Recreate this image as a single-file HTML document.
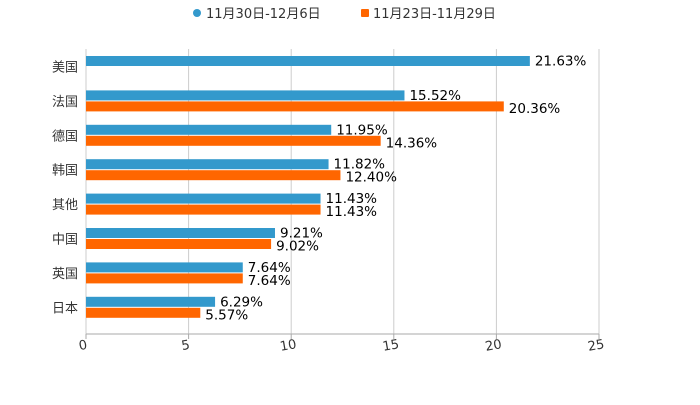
<!DOCTYPE html>
<html><head><meta charset="utf-8"><style>
body{margin:0;background:#fff;width:700px;height:400px;overflow:hidden}
text{font-family:"DejaVu Sans","Noto Sans CJK SC",sans-serif}
</style></head><body>
<svg id="c" width="700" height="400" xmlns="http://www.w3.org/2000/svg">
<g>
<g><circle cx="197" cy="13" r="4" fill="#3399cc"/><text x="206" y="18" font-size="13" fill="#333">11月30日-12月6日</text></g>
<g><rect x="361" y="9" width="8" height="8" rx="1" fill="#ff6600"/><text x="373" y="18" font-size="13" fill="#333">11月23日-11月29日</text></g>
</g>
<g id="grid"></g><g id="bars"></g><g id="axes"></g>
</svg>
<script>
const categories=["美国","法国","德国","韩国","其他","中国","英国","日本"];
const seriesA=[21.63,15.52,11.95,11.82,11.43,9.21,7.64,6.29];
const seriesB=[null,20.36,14.36,12.40,11.43,9.02,7.64,5.57];
const ticks=[0,5,10,15,20,25];
const NS="http://www.w3.org/2000/svg";
const x0=86,x1=599,xMax=25;
const X=v=>x0+v/xMax*(x1-x0);
const Y=i=>66.5+i*34.4;
function mk(t,a,p){const e=document.createElementNS(NS,t);for(const k in a)e.setAttribute(k,a[k]);p.appendChild(e);return e;}
const g=document.getElementById('grid'),b=document.getElementById('bars'),ax=document.getElementById('axes');
ticks.forEach(t=>{
 const l=mk('line',{x1:X(t),x2:X(t),y1:49,y2:334,stroke:'#ccc','stroke-width':1},g);
 
 
 const tk=mk('line',{x1:X(t),x2:X(t),y1:334,y2:339,stroke:'#aaa'},ax);
 
 
 const tx=mk('text',{x:X(t)-3,y:349,'font-size':13,fill:'#333','text-anchor':'middle',transform:`rotate(-10 ${X(t)} 345)`},ax);
 tx.textContent=t;
 
 
});
const axl=mk('line',{x1:x0,x2:x1,y1:334,y2:334,stroke:'#aaa'},ax);


categories.forEach((c,i)=>{
 const yc=Y(i);
 const lb=mk('text',{x:78,y:yc+5,'font-size':13,fill:'#333','text-anchor':'end'},ax);
 lb.textContent=c;
 
 
 [[seriesA[i],'#3399cc',yc-10.5,-1],[seriesB[i],'#ff6600',yc+0.5,12]].forEach(([v,col,y,ty],k)=>{
  if(v==null)return;
  const r=mk('rect',{x:x0,y:y,width:X(v)-x0,height:10,fill:col},b);
  
  
  const t=mk('text',{x:X(v)+5,y:yc+ty,'font-size':13.5,fill:'#000'},b);
  t.textContent=v.toFixed(2)+'%';
  
  
 });
});
</script>
</body></html>
